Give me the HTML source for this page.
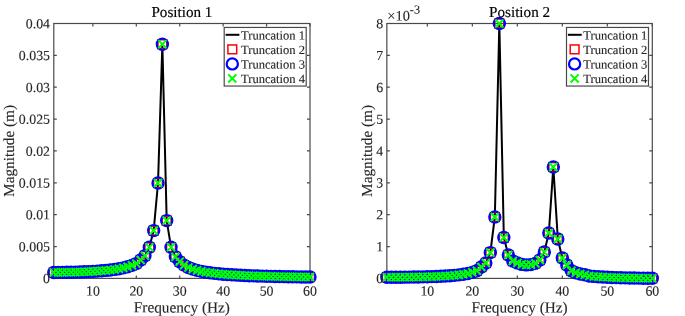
<!DOCTYPE html>
<html lang="en"><head><meta charset="utf-8"><title>Magnitude vs Frequency</title>
<style>
html,body{margin:0;padding:0;background:#fff;}
body{width:685px;height:316px;overflow:hidden;}
svg{display:block;font-family:"Liberation Serif", "Times New Roman", serif;fill:#262626;text-rendering:geometricPrecision;}
</style></head><body>
<svg width="685" height="316" viewBox="0 0 685 316">
<rect width="685" height="316" fill="#fff"/>
<rect x="53.8" y="23.5" width="256.2" height="254.9" fill="none" stroke="#4a4a4a" stroke-width="1.2"/>
<path fill="none" stroke="#4a4a4a" stroke-width="1.2" d="M92.88 278.4v-3M92.88 23.5v3M136.31 278.4v-3M136.31 23.5v3M179.73 278.4v-3M179.73 23.5v3M223.15 278.4v-3M223.15 23.5v3M266.58 278.4v-3M266.58 23.5v3M310 278.4v-3M310 23.5v3M53.8 278.4h3M310 278.4h-3M53.8 246.54h3M310 246.54h-3M53.8 214.67h3M310 214.67h-3M53.8 182.81h3M310 182.81h-3M53.8 150.95h3M310 150.95h-3M53.8 119.09h3M310 119.09h-3M53.8 87.22h3M310 87.22h-3M53.8 55.36h3M310 55.36h-3M53.8 23.5h3M310 23.5h-3"/>
<polyline fill="none" stroke="#000" stroke-width="2.0" stroke-linejoin="round" points="53.8,272.44 58.14,272.41 62.48,272.37 66.83,272.3 71.17,272.22 75.51,272.11 79.85,271.98 84.2,271.82 88.54,271.62 92.88,271.39 97.22,271.12 101.57,270.8 105.91,270.42 110.25,269.96 114.59,269.4 118.94,268.72 123.28,267.87 127.62,266.78 131.96,265.36 136.31,263.6 140.65,260 144.99,255.8 149.33,247.2 153.67,230.6 158.02,183 162.36,44.2 166.7,220.6 171.04,247.2 175.39,256.8 179.73,261.68 184.07,265.11 188.41,267.43 192.76,269.11 197.1,270.37 201.44,271.36 205.78,272.15 210.13,272.8 214.47,273.34 218.81,273.79 223.15,274.18 227.49,274.52 231.84,274.81 236.18,275.07 240.52,275.29 244.86,275.5 249.21,275.68 253.55,275.84 257.89,275.99 262.23,276.13 266.58,276.25 270.92,276.36 275.26,276.46 279.6,276.56 283.95,276.65 288.29,276.73 292.63,276.8 296.97,276.87 301.32,276.94 305.66,277 310,277.05"/>
<g fill="none" stroke="#f00" stroke-width="1.5"><rect x="49.4" y="268.04" width="8.8" height="8.8"/><rect x="53.74" y="268.01" width="8.8" height="8.8"/><rect x="58.08" y="267.97" width="8.8" height="8.8"/><rect x="62.43" y="267.9" width="8.8" height="8.8"/><rect x="66.77" y="267.82" width="8.8" height="8.8"/><rect x="71.11" y="267.71" width="8.8" height="8.8"/><rect x="75.45" y="267.58" width="8.8" height="8.8"/><rect x="79.8" y="267.42" width="8.8" height="8.8"/><rect x="84.14" y="267.22" width="8.8" height="8.8"/><rect x="88.48" y="266.99" width="8.8" height="8.8"/><rect x="92.82" y="266.72" width="8.8" height="8.8"/><rect x="97.17" y="266.4" width="8.8" height="8.8"/><rect x="101.51" y="266.02" width="8.8" height="8.8"/><rect x="105.85" y="265.56" width="8.8" height="8.8"/><rect x="110.19" y="265" width="8.8" height="8.8"/><rect x="114.54" y="264.32" width="8.8" height="8.8"/><rect x="118.88" y="263.47" width="8.8" height="8.8"/><rect x="123.22" y="262.38" width="8.8" height="8.8"/><rect x="127.56" y="260.96" width="8.8" height="8.8"/><rect x="131.91" y="259.2" width="8.8" height="8.8"/><rect x="136.25" y="255.6" width="8.8" height="8.8"/><rect x="140.59" y="251.4" width="8.8" height="8.8"/><rect x="144.93" y="242.8" width="8.8" height="8.8"/><rect x="149.27" y="226.2" width="8.8" height="8.8"/><rect x="153.62" y="178.6" width="8.8" height="8.8"/><rect x="157.96" y="39.8" width="8.8" height="8.8"/><rect x="162.3" y="216.2" width="8.8" height="8.8"/><rect x="166.64" y="242.8" width="8.8" height="8.8"/><rect x="170.99" y="252.4" width="8.8" height="8.8"/><rect x="175.33" y="257.28" width="8.8" height="8.8"/><rect x="179.67" y="260.71" width="8.8" height="8.8"/><rect x="184.01" y="263.03" width="8.8" height="8.8"/><rect x="188.36" y="264.71" width="8.8" height="8.8"/><rect x="192.7" y="265.97" width="8.8" height="8.8"/><rect x="197.04" y="266.96" width="8.8" height="8.8"/><rect x="201.38" y="267.75" width="8.8" height="8.8"/><rect x="205.73" y="268.4" width="8.8" height="8.8"/><rect x="210.07" y="268.94" width="8.8" height="8.8"/><rect x="214.41" y="269.39" width="8.8" height="8.8"/><rect x="218.75" y="269.78" width="8.8" height="8.8"/><rect x="223.09" y="270.12" width="8.8" height="8.8"/><rect x="227.44" y="270.41" width="8.8" height="8.8"/><rect x="231.78" y="270.67" width="8.8" height="8.8"/><rect x="236.12" y="270.89" width="8.8" height="8.8"/><rect x="240.46" y="271.1" width="8.8" height="8.8"/><rect x="244.81" y="271.28" width="8.8" height="8.8"/><rect x="249.15" y="271.44" width="8.8" height="8.8"/><rect x="253.49" y="271.59" width="8.8" height="8.8"/><rect x="257.83" y="271.73" width="8.8" height="8.8"/><rect x="262.18" y="271.85" width="8.8" height="8.8"/><rect x="266.52" y="271.96" width="8.8" height="8.8"/><rect x="270.86" y="272.06" width="8.8" height="8.8"/><rect x="275.2" y="272.16" width="8.8" height="8.8"/><rect x="279.55" y="272.25" width="8.8" height="8.8"/><rect x="283.89" y="272.33" width="8.8" height="8.8"/><rect x="288.23" y="272.4" width="8.8" height="8.8"/><rect x="292.57" y="272.47" width="8.8" height="8.8"/><rect x="296.92" y="272.54" width="8.8" height="8.8"/><rect x="301.26" y="272.6" width="8.8" height="8.8"/><rect x="305.6" y="272.65" width="8.8" height="8.8"/></g>
<g fill="none" stroke="#00f" stroke-width="2.2"><circle cx="53.8" cy="272.44" r="5.6"/><circle cx="58.14" cy="272.41" r="5.6"/><circle cx="62.48" cy="272.37" r="5.6"/><circle cx="66.83" cy="272.3" r="5.6"/><circle cx="71.17" cy="272.22" r="5.6"/><circle cx="75.51" cy="272.11" r="5.6"/><circle cx="79.85" cy="271.98" r="5.6"/><circle cx="84.2" cy="271.82" r="5.6"/><circle cx="88.54" cy="271.62" r="5.6"/><circle cx="92.88" cy="271.39" r="5.6"/><circle cx="97.22" cy="271.12" r="5.6"/><circle cx="101.57" cy="270.8" r="5.6"/><circle cx="105.91" cy="270.42" r="5.6"/><circle cx="110.25" cy="269.96" r="5.6"/><circle cx="114.59" cy="269.4" r="5.6"/><circle cx="118.94" cy="268.72" r="5.6"/><circle cx="123.28" cy="267.87" r="5.6"/><circle cx="127.62" cy="266.78" r="5.6"/><circle cx="131.96" cy="265.36" r="5.6"/><circle cx="136.31" cy="263.6" r="5.6"/><circle cx="140.65" cy="260" r="5.6"/><circle cx="144.99" cy="255.8" r="5.6"/><circle cx="149.33" cy="247.2" r="5.6"/><circle cx="153.67" cy="230.6" r="5.6"/><circle cx="158.02" cy="183" r="5.6"/><circle cx="162.36" cy="44.2" r="5.6"/><circle cx="166.7" cy="220.6" r="5.6"/><circle cx="171.04" cy="247.2" r="5.6"/><circle cx="175.39" cy="256.8" r="5.6"/><circle cx="179.73" cy="261.68" r="5.6"/><circle cx="184.07" cy="265.11" r="5.6"/><circle cx="188.41" cy="267.43" r="5.6"/><circle cx="192.76" cy="269.11" r="5.6"/><circle cx="197.1" cy="270.37" r="5.6"/><circle cx="201.44" cy="271.36" r="5.6"/><circle cx="205.78" cy="272.15" r="5.6"/><circle cx="210.13" cy="272.8" r="5.6"/><circle cx="214.47" cy="273.34" r="5.6"/><circle cx="218.81" cy="273.79" r="5.6"/><circle cx="223.15" cy="274.18" r="5.6"/><circle cx="227.49" cy="274.52" r="5.6"/><circle cx="231.84" cy="274.81" r="5.6"/><circle cx="236.18" cy="275.07" r="5.6"/><circle cx="240.52" cy="275.29" r="5.6"/><circle cx="244.86" cy="275.5" r="5.6"/><circle cx="249.21" cy="275.68" r="5.6"/><circle cx="253.55" cy="275.84" r="5.6"/><circle cx="257.89" cy="275.99" r="5.6"/><circle cx="262.23" cy="276.13" r="5.6"/><circle cx="266.58" cy="276.25" r="5.6"/><circle cx="270.92" cy="276.36" r="5.6"/><circle cx="275.26" cy="276.46" r="5.6"/><circle cx="279.6" cy="276.56" r="5.6"/><circle cx="283.95" cy="276.65" r="5.6"/><circle cx="288.29" cy="276.73" r="5.6"/><circle cx="292.63" cy="276.8" r="5.6"/><circle cx="296.97" cy="276.87" r="5.6"/><circle cx="301.32" cy="276.94" r="5.6"/><circle cx="305.66" cy="277" r="5.6"/><circle cx="310" cy="277.05" r="5.6"/></g>
<path fill="none" stroke="#0f0" stroke-width="2.05" d="M49.75 268.39l8.1 8.1m0 -8.1l-8.1 8.1M54.09 268.36l8.1 8.1m0 -8.1l-8.1 8.1M58.43 268.32l8.1 8.1m0 -8.1l-8.1 8.1M62.78 268.25l8.1 8.1m0 -8.1l-8.1 8.1M67.12 268.17l8.1 8.1m0 -8.1l-8.1 8.1M71.46 268.06l8.1 8.1m0 -8.1l-8.1 8.1M75.8 267.93l8.1 8.1m0 -8.1l-8.1 8.1M80.15 267.77l8.1 8.1m0 -8.1l-8.1 8.1M84.49 267.57l8.1 8.1m0 -8.1l-8.1 8.1M88.83 267.34l8.1 8.1m0 -8.1l-8.1 8.1M93.17 267.07l8.1 8.1m0 -8.1l-8.1 8.1M97.52 266.75l8.1 8.1m0 -8.1l-8.1 8.1M101.86 266.37l8.1 8.1m0 -8.1l-8.1 8.1M106.2 265.91l8.1 8.1m0 -8.1l-8.1 8.1M110.54 265.35l8.1 8.1m0 -8.1l-8.1 8.1M114.89 264.67l8.1 8.1m0 -8.1l-8.1 8.1M119.23 263.82l8.1 8.1m0 -8.1l-8.1 8.1M123.57 262.73l8.1 8.1m0 -8.1l-8.1 8.1M127.91 261.31l8.1 8.1m0 -8.1l-8.1 8.1M132.26 259.55l8.1 8.1m0 -8.1l-8.1 8.1M136.6 255.95l8.1 8.1m0 -8.1l-8.1 8.1M140.94 251.75l8.1 8.1m0 -8.1l-8.1 8.1M145.28 243.15l8.1 8.1m0 -8.1l-8.1 8.1M149.62 226.55l8.1 8.1m0 -8.1l-8.1 8.1M153.97 178.95l8.1 8.1m0 -8.1l-8.1 8.1M158.31 40.15l8.1 8.1m0 -8.1l-8.1 8.1M162.65 216.55l8.1 8.1m0 -8.1l-8.1 8.1M166.99 243.15l8.1 8.1m0 -8.1l-8.1 8.1M171.34 252.75l8.1 8.1m0 -8.1l-8.1 8.1M175.68 257.63l8.1 8.1m0 -8.1l-8.1 8.1M180.02 261.06l8.1 8.1m0 -8.1l-8.1 8.1M184.36 263.38l8.1 8.1m0 -8.1l-8.1 8.1M188.71 265.06l8.1 8.1m0 -8.1l-8.1 8.1M193.05 266.32l8.1 8.1m0 -8.1l-8.1 8.1M197.39 267.31l8.1 8.1m0 -8.1l-8.1 8.1M201.73 268.1l8.1 8.1m0 -8.1l-8.1 8.1M206.08 268.75l8.1 8.1m0 -8.1l-8.1 8.1M210.42 269.29l8.1 8.1m0 -8.1l-8.1 8.1M214.76 269.74l8.1 8.1m0 -8.1l-8.1 8.1M219.1 270.13l8.1 8.1m0 -8.1l-8.1 8.1M223.44 270.47l8.1 8.1m0 -8.1l-8.1 8.1M227.79 270.76l8.1 8.1m0 -8.1l-8.1 8.1M232.13 271.02l8.1 8.1m0 -8.1l-8.1 8.1M236.47 271.24l8.1 8.1m0 -8.1l-8.1 8.1M240.81 271.45l8.1 8.1m0 -8.1l-8.1 8.1M245.16 271.63l8.1 8.1m0 -8.1l-8.1 8.1M249.5 271.79l8.1 8.1m0 -8.1l-8.1 8.1M253.84 271.94l8.1 8.1m0 -8.1l-8.1 8.1M258.18 272.08l8.1 8.1m0 -8.1l-8.1 8.1M262.53 272.2l8.1 8.1m0 -8.1l-8.1 8.1M266.87 272.31l8.1 8.1m0 -8.1l-8.1 8.1M271.21 272.41l8.1 8.1m0 -8.1l-8.1 8.1M275.55 272.51l8.1 8.1m0 -8.1l-8.1 8.1M279.9 272.6l8.1 8.1m0 -8.1l-8.1 8.1M284.24 272.68l8.1 8.1m0 -8.1l-8.1 8.1M288.58 272.75l8.1 8.1m0 -8.1l-8.1 8.1M292.92 272.82l8.1 8.1m0 -8.1l-8.1 8.1M297.27 272.89l8.1 8.1m0 -8.1l-8.1 8.1M301.61 272.95l8.1 8.1m0 -8.1l-8.1 8.1M305.95 273l8.1 8.1m0 -8.1l-8.1 8.1"/>
<rect x="224.2" y="27.45" width="82" height="58.6" fill="#fff" stroke="#4a4a4a" stroke-width="1.2"/>
<path stroke="#000" stroke-width="2.0" d="M225.6 34.8h13.8"/>
<g fill="none" stroke="#f00" stroke-width="1.5"><rect x="227.9" y="44.95" width="8.8" height="8.8"/></g>
<g fill="none" stroke="#00f" stroke-width="2.2"><circle cx="232.3" cy="63.9" r="5.6"/></g>
<path fill="none" stroke="#0f0" stroke-width="2.05" d="M228.25 74.4l8.1 8.1m0 -8.1l-8.1 8.1"/>
<g stroke="#262626" stroke-width="0.12"><text x="92.88" y="295.6" transform="rotate(0.03 92.88 295.6)" text-anchor="middle" font-size="13.85">10</text>
<text x="136.31" y="295.6" transform="rotate(0.03 136.31 295.6)" text-anchor="middle" font-size="13.85">20</text>
<text x="179.73" y="295.6" transform="rotate(0.03 179.73 295.6)" text-anchor="middle" font-size="13.85">30</text>
<text x="223.15" y="295.6" transform="rotate(0.03 223.15 295.6)" text-anchor="middle" font-size="13.85">40</text>
<text x="266.58" y="295.6" transform="rotate(0.03 266.58 295.6)" text-anchor="middle" font-size="13.85">50</text>
<text x="310" y="295.6" transform="rotate(0.03 310 295.6)" text-anchor="middle" font-size="13.85">60</text>
<text x="50" y="283.1" transform="rotate(0.03 49 283.1)" text-anchor="end" font-size="13.85">0</text>
<text x="50" y="251.24" transform="rotate(0.03 49 251.24)" text-anchor="end" font-size="13.85">0.005</text>
<text x="50" y="219.37" transform="rotate(0.03 49 219.37)" text-anchor="end" font-size="13.85">0.01</text>
<text x="50" y="187.51" transform="rotate(0.03 49 187.51)" text-anchor="end" font-size="13.85">0.015</text>
<text x="50" y="155.65" transform="rotate(0.03 49 155.65)" text-anchor="end" font-size="13.85">0.02</text>
<text x="50" y="123.79" transform="rotate(0.03 49 123.79)" text-anchor="end" font-size="13.85">0.025</text>
<text x="50" y="91.92" transform="rotate(0.03 49 91.92)" text-anchor="end" font-size="13.85">0.03</text>
<text x="50" y="60.06" transform="rotate(0.03 49 60.06)" text-anchor="end" font-size="13.85">0.035</text>
<text x="50" y="28.2" transform="rotate(0.03 49 28.2)" text-anchor="end" font-size="13.85">0.04</text>
<text x="181.9" y="17" transform="rotate(0.03 181.9 17)" text-anchor="middle" font-size="15.15" fill="#000" stroke="#000" stroke-width="0.15">Position 1</text>
<text x="181.9" y="312.4" transform="rotate(0.03 181.9 312.4)" text-anchor="middle" font-size="15.25">Frequency (Hz)</text>
<text transform="translate(14 150.95) rotate(-89.97)" text-anchor="middle" font-size="15.25">Magnitude (m)</text>
<text x="241" y="39.4" transform="rotate(0.03 241 39.4)" font-size="12.55">Truncation 1</text>
<text x="241" y="53.95" transform="rotate(0.03 241 53.95)" font-size="12.55">Truncation 2</text>
<text x="241" y="68.5" transform="rotate(0.03 241 68.5)" font-size="12.55">Truncation 3</text>
<text x="241" y="83.05" transform="rotate(0.03 241 83.05)" font-size="12.55">Truncation 4</text></g>
<rect x="386.85" y="23.5" width="265.45" height="254.9" fill="none" stroke="#4a4a4a" stroke-width="1.2"/>
<path fill="none" stroke="#4a4a4a" stroke-width="1.2" d="M427.34 278.4v-3M427.34 23.5v3M472.33 278.4v-3M472.33 23.5v3M517.33 278.4v-3M517.33 23.5v3M562.32 278.4v-3M562.32 23.5v3M607.31 278.4v-3M607.31 23.5v3M652.3 278.4v-3M652.3 23.5v3M386.85 278.4h3M652.3 278.4h-3M386.85 246.54h3M652.3 246.54h-3M386.85 214.67h3M652.3 214.67h-3M386.85 182.81h3M652.3 182.81h-3M386.85 150.95h3M652.3 150.95h-3M386.85 119.09h3M652.3 119.09h-3M386.85 87.22h3M652.3 87.22h-3M386.85 55.36h3M652.3 55.36h-3M386.85 23.5h3M652.3 23.5h-3"/>
<polyline fill="none" stroke="#000" stroke-width="2.0" stroke-linejoin="round" points="386.85,277.27 391.35,277.26 395.85,277.23 400.35,277.2 404.85,277.16 409.35,277.11 413.84,277.05 418.34,276.97 422.84,276.87 427.34,276.76 431.84,276.62 436.34,276.46 440.84,276.26 445.34,276.02 449.84,275.72 454.34,275.35 458.84,274.88 463.34,274.27 467.83,273.46 472.33,272.34 476.83,270.7 481.33,267 485.83,263 490.33,252.6 494.83,217 499.33,23.5 503.83,237.5 508.33,255 512.83,261 517.33,262.92 521.82,264.39 526.32,264.9 530.82,264.61 535.32,263.38 539.82,260 544.32,252 548.82,233 553.32,167 557.82,239 562.32,258 566.82,265 571.32,270.8 575.81,272.72 580.31,273.96 584.81,274.82 589.31,275.94 593.81,276.41 598.31,276.77 602.81,277.06 607.31,277.29 611.81,277.48 616.31,277.63 620.81,277.77 625.31,277.88 629.8,277.97 634.3,278.06 638.8,278.13 643.3,278.19 647.8,278.25 652.3,278.3"/>
<g fill="none" stroke="#f00" stroke-width="1.5"><rect x="382.45" y="272.87" width="8.8" height="8.8"/><rect x="386.95" y="272.86" width="8.8" height="8.8"/><rect x="391.45" y="272.83" width="8.8" height="8.8"/><rect x="395.95" y="272.8" width="8.8" height="8.8"/><rect x="400.45" y="272.76" width="8.8" height="8.8"/><rect x="404.95" y="272.71" width="8.8" height="8.8"/><rect x="409.44" y="272.65" width="8.8" height="8.8"/><rect x="413.94" y="272.57" width="8.8" height="8.8"/><rect x="418.44" y="272.47" width="8.8" height="8.8"/><rect x="422.94" y="272.36" width="8.8" height="8.8"/><rect x="427.44" y="272.22" width="8.8" height="8.8"/><rect x="431.94" y="272.06" width="8.8" height="8.8"/><rect x="436.44" y="271.86" width="8.8" height="8.8"/><rect x="440.94" y="271.62" width="8.8" height="8.8"/><rect x="445.44" y="271.32" width="8.8" height="8.8"/><rect x="449.94" y="270.95" width="8.8" height="8.8"/><rect x="454.44" y="270.48" width="8.8" height="8.8"/><rect x="458.94" y="269.87" width="8.8" height="8.8"/><rect x="463.43" y="269.06" width="8.8" height="8.8"/><rect x="467.93" y="267.94" width="8.8" height="8.8"/><rect x="472.43" y="266.3" width="8.8" height="8.8"/><rect x="476.93" y="262.6" width="8.8" height="8.8"/><rect x="481.43" y="258.6" width="8.8" height="8.8"/><rect x="485.93" y="248.2" width="8.8" height="8.8"/><rect x="490.43" y="212.6" width="8.8" height="8.8"/><rect x="494.93" y="19.1" width="8.8" height="8.8"/><rect x="499.43" y="233.1" width="8.8" height="8.8"/><rect x="503.93" y="250.6" width="8.8" height="8.8"/><rect x="508.43" y="256.6" width="8.8" height="8.8"/><rect x="512.93" y="258.52" width="8.8" height="8.8"/><rect x="517.42" y="259.99" width="8.8" height="8.8"/><rect x="521.92" y="260.5" width="8.8" height="8.8"/><rect x="526.42" y="260.21" width="8.8" height="8.8"/><rect x="530.92" y="258.98" width="8.8" height="8.8"/><rect x="535.42" y="255.6" width="8.8" height="8.8"/><rect x="539.92" y="247.6" width="8.8" height="8.8"/><rect x="544.42" y="228.6" width="8.8" height="8.8"/><rect x="548.92" y="162.6" width="8.8" height="8.8"/><rect x="553.42" y="234.6" width="8.8" height="8.8"/><rect x="557.92" y="253.6" width="8.8" height="8.8"/><rect x="562.42" y="260.6" width="8.8" height="8.8"/><rect x="566.92" y="266.4" width="8.8" height="8.8"/><rect x="571.41" y="268.32" width="8.8" height="8.8"/><rect x="575.91" y="269.56" width="8.8" height="8.8"/><rect x="580.41" y="270.42" width="8.8" height="8.8"/><rect x="584.91" y="271.54" width="8.8" height="8.8"/><rect x="589.41" y="272.01" width="8.8" height="8.8"/><rect x="593.91" y="272.37" width="8.8" height="8.8"/><rect x="598.41" y="272.66" width="8.8" height="8.8"/><rect x="602.91" y="272.89" width="8.8" height="8.8"/><rect x="607.41" y="273.08" width="8.8" height="8.8"/><rect x="611.91" y="273.23" width="8.8" height="8.8"/><rect x="616.41" y="273.37" width="8.8" height="8.8"/><rect x="620.91" y="273.48" width="8.8" height="8.8"/><rect x="625.4" y="273.57" width="8.8" height="8.8"/><rect x="629.9" y="273.66" width="8.8" height="8.8"/><rect x="634.4" y="273.73" width="8.8" height="8.8"/><rect x="638.9" y="273.79" width="8.8" height="8.8"/><rect x="643.4" y="273.85" width="8.8" height="8.8"/><rect x="647.9" y="273.9" width="8.8" height="8.8"/></g>
<g fill="none" stroke="#00f" stroke-width="2.2"><circle cx="386.85" cy="277.27" r="5.6"/><circle cx="391.35" cy="277.26" r="5.6"/><circle cx="395.85" cy="277.23" r="5.6"/><circle cx="400.35" cy="277.2" r="5.6"/><circle cx="404.85" cy="277.16" r="5.6"/><circle cx="409.35" cy="277.11" r="5.6"/><circle cx="413.84" cy="277.05" r="5.6"/><circle cx="418.34" cy="276.97" r="5.6"/><circle cx="422.84" cy="276.87" r="5.6"/><circle cx="427.34" cy="276.76" r="5.6"/><circle cx="431.84" cy="276.62" r="5.6"/><circle cx="436.34" cy="276.46" r="5.6"/><circle cx="440.84" cy="276.26" r="5.6"/><circle cx="445.34" cy="276.02" r="5.6"/><circle cx="449.84" cy="275.72" r="5.6"/><circle cx="454.34" cy="275.35" r="5.6"/><circle cx="458.84" cy="274.88" r="5.6"/><circle cx="463.34" cy="274.27" r="5.6"/><circle cx="467.83" cy="273.46" r="5.6"/><circle cx="472.33" cy="272.34" r="5.6"/><circle cx="476.83" cy="270.7" r="5.6"/><circle cx="481.33" cy="267" r="5.6"/><circle cx="485.83" cy="263" r="5.6"/><circle cx="490.33" cy="252.6" r="5.6"/><circle cx="494.83" cy="217" r="5.6"/><circle cx="499.33" cy="23.5" r="5.6"/><circle cx="503.83" cy="237.5" r="5.6"/><circle cx="508.33" cy="255" r="5.6"/><circle cx="512.83" cy="261" r="5.6"/><circle cx="517.33" cy="262.92" r="5.6"/><circle cx="521.82" cy="264.39" r="5.6"/><circle cx="526.32" cy="264.9" r="5.6"/><circle cx="530.82" cy="264.61" r="5.6"/><circle cx="535.32" cy="263.38" r="5.6"/><circle cx="539.82" cy="260" r="5.6"/><circle cx="544.32" cy="252" r="5.6"/><circle cx="548.82" cy="233" r="5.6"/><circle cx="553.32" cy="167" r="5.6"/><circle cx="557.82" cy="239" r="5.6"/><circle cx="562.32" cy="258" r="5.6"/><circle cx="566.82" cy="265" r="5.6"/><circle cx="571.32" cy="270.8" r="5.6"/><circle cx="575.81" cy="272.72" r="5.6"/><circle cx="580.31" cy="273.96" r="5.6"/><circle cx="584.81" cy="274.82" r="5.6"/><circle cx="589.31" cy="275.94" r="5.6"/><circle cx="593.81" cy="276.41" r="5.6"/><circle cx="598.31" cy="276.77" r="5.6"/><circle cx="602.81" cy="277.06" r="5.6"/><circle cx="607.31" cy="277.29" r="5.6"/><circle cx="611.81" cy="277.48" r="5.6"/><circle cx="616.31" cy="277.63" r="5.6"/><circle cx="620.81" cy="277.77" r="5.6"/><circle cx="625.31" cy="277.88" r="5.6"/><circle cx="629.8" cy="277.97" r="5.6"/><circle cx="634.3" cy="278.06" r="5.6"/><circle cx="638.8" cy="278.13" r="5.6"/><circle cx="643.3" cy="278.19" r="5.6"/><circle cx="647.8" cy="278.25" r="5.6"/><circle cx="652.3" cy="278.3" r="5.6"/></g>
<path fill="none" stroke="#0f0" stroke-width="2.05" d="M382.8 273.22l8.1 8.1m0 -8.1l-8.1 8.1M387.3 273.21l8.1 8.1m0 -8.1l-8.1 8.1M391.8 273.18l8.1 8.1m0 -8.1l-8.1 8.1M396.3 273.15l8.1 8.1m0 -8.1l-8.1 8.1M400.8 273.11l8.1 8.1m0 -8.1l-8.1 8.1M405.3 273.06l8.1 8.1m0 -8.1l-8.1 8.1M409.79 273l8.1 8.1m0 -8.1l-8.1 8.1M414.29 272.92l8.1 8.1m0 -8.1l-8.1 8.1M418.79 272.82l8.1 8.1m0 -8.1l-8.1 8.1M423.29 272.71l8.1 8.1m0 -8.1l-8.1 8.1M427.79 272.57l8.1 8.1m0 -8.1l-8.1 8.1M432.29 272.41l8.1 8.1m0 -8.1l-8.1 8.1M436.79 272.21l8.1 8.1m0 -8.1l-8.1 8.1M441.29 271.97l8.1 8.1m0 -8.1l-8.1 8.1M445.79 271.67l8.1 8.1m0 -8.1l-8.1 8.1M450.29 271.3l8.1 8.1m0 -8.1l-8.1 8.1M454.79 270.83l8.1 8.1m0 -8.1l-8.1 8.1M459.29 270.22l8.1 8.1m0 -8.1l-8.1 8.1M463.78 269.41l8.1 8.1m0 -8.1l-8.1 8.1M468.28 268.29l8.1 8.1m0 -8.1l-8.1 8.1M472.78 266.65l8.1 8.1m0 -8.1l-8.1 8.1M477.28 262.95l8.1 8.1m0 -8.1l-8.1 8.1M481.78 258.95l8.1 8.1m0 -8.1l-8.1 8.1M486.28 248.55l8.1 8.1m0 -8.1l-8.1 8.1M490.78 212.95l8.1 8.1m0 -8.1l-8.1 8.1M495.28 19.45l8.1 8.1m0 -8.1l-8.1 8.1M499.78 233.45l8.1 8.1m0 -8.1l-8.1 8.1M504.28 250.95l8.1 8.1m0 -8.1l-8.1 8.1M508.78 256.95l8.1 8.1m0 -8.1l-8.1 8.1M513.28 258.87l8.1 8.1m0 -8.1l-8.1 8.1M517.77 260.34l8.1 8.1m0 -8.1l-8.1 8.1M522.27 260.85l8.1 8.1m0 -8.1l-8.1 8.1M526.77 260.56l8.1 8.1m0 -8.1l-8.1 8.1M531.27 259.33l8.1 8.1m0 -8.1l-8.1 8.1M535.77 255.95l8.1 8.1m0 -8.1l-8.1 8.1M540.27 247.95l8.1 8.1m0 -8.1l-8.1 8.1M544.77 228.95l8.1 8.1m0 -8.1l-8.1 8.1M549.27 162.95l8.1 8.1m0 -8.1l-8.1 8.1M553.77 234.95l8.1 8.1m0 -8.1l-8.1 8.1M558.27 253.95l8.1 8.1m0 -8.1l-8.1 8.1M562.77 260.95l8.1 8.1m0 -8.1l-8.1 8.1M567.27 266.75l8.1 8.1m0 -8.1l-8.1 8.1M571.76 268.67l8.1 8.1m0 -8.1l-8.1 8.1M576.26 269.91l8.1 8.1m0 -8.1l-8.1 8.1M580.76 270.77l8.1 8.1m0 -8.1l-8.1 8.1M585.26 271.89l8.1 8.1m0 -8.1l-8.1 8.1M589.76 272.36l8.1 8.1m0 -8.1l-8.1 8.1M594.26 272.72l8.1 8.1m0 -8.1l-8.1 8.1M598.76 273.01l8.1 8.1m0 -8.1l-8.1 8.1M603.26 273.24l8.1 8.1m0 -8.1l-8.1 8.1M607.76 273.43l8.1 8.1m0 -8.1l-8.1 8.1M612.26 273.58l8.1 8.1m0 -8.1l-8.1 8.1M616.76 273.72l8.1 8.1m0 -8.1l-8.1 8.1M621.26 273.83l8.1 8.1m0 -8.1l-8.1 8.1M625.75 273.92l8.1 8.1m0 -8.1l-8.1 8.1M630.25 274.01l8.1 8.1m0 -8.1l-8.1 8.1M634.75 274.08l8.1 8.1m0 -8.1l-8.1 8.1M639.25 274.14l8.1 8.1m0 -8.1l-8.1 8.1M643.75 274.2l8.1 8.1m0 -8.1l-8.1 8.1M648.25 274.25l8.1 8.1m0 -8.1l-8.1 8.1"/>
<rect x="566.5" y="27.45" width="82" height="58.6" fill="#fff" stroke="#4a4a4a" stroke-width="1.2"/>
<path stroke="#000" stroke-width="2.0" d="M567.9 34.8h13.8"/>
<g fill="none" stroke="#f00" stroke-width="1.5"><rect x="570.2" y="44.95" width="8.8" height="8.8"/></g>
<g fill="none" stroke="#00f" stroke-width="2.2"><circle cx="574.6" cy="63.9" r="5.6"/></g>
<path fill="none" stroke="#0f0" stroke-width="2.05" d="M570.55 74.4l8.1 8.1m0 -8.1l-8.1 8.1"/>
<g stroke="#262626" stroke-width="0.12"><text x="427.34" y="295.6" transform="rotate(0.03 427.34 295.6)" text-anchor="middle" font-size="13.85">10</text>
<text x="472.33" y="295.6" transform="rotate(0.03 472.33 295.6)" text-anchor="middle" font-size="13.85">20</text>
<text x="517.33" y="295.6" transform="rotate(0.03 517.33 295.6)" text-anchor="middle" font-size="13.85">30</text>
<text x="562.32" y="295.6" transform="rotate(0.03 562.32 295.6)" text-anchor="middle" font-size="13.85">40</text>
<text x="607.31" y="295.6" transform="rotate(0.03 607.31 295.6)" text-anchor="middle" font-size="13.85">50</text>
<text x="652.3" y="295.6" transform="rotate(0.03 652.3 295.6)" text-anchor="middle" font-size="13.85">60</text>
<text x="383.25" y="283.1" transform="rotate(0.03 382.05 283.1)" text-anchor="end" font-size="13.85">0</text>
<text x="383.25" y="251.24" transform="rotate(0.03 382.05 251.24)" text-anchor="end" font-size="13.85">1</text>
<text x="383.25" y="219.37" transform="rotate(0.03 382.05 219.37)" text-anchor="end" font-size="13.85">2</text>
<text x="383.25" y="187.51" transform="rotate(0.03 382.05 187.51)" text-anchor="end" font-size="13.85">3</text>
<text x="383.25" y="155.65" transform="rotate(0.03 382.05 155.65)" text-anchor="end" font-size="13.85">4</text>
<text x="383.25" y="123.79" transform="rotate(0.03 382.05 123.79)" text-anchor="end" font-size="13.85">5</text>
<text x="383.25" y="91.92" transform="rotate(0.03 382.05 91.92)" text-anchor="end" font-size="13.85">6</text>
<text x="383.25" y="60.06" transform="rotate(0.03 382.05 60.06)" text-anchor="end" font-size="13.85">7</text>
<text x="383.25" y="28.2" transform="rotate(0.03 382.05 28.2)" text-anchor="end" font-size="13.85">8</text>
<text x="519.58" y="17" transform="rotate(0.03 519.58 17)" text-anchor="middle" font-size="15.15" fill="#000" stroke="#000" stroke-width="0.15">Position 2</text>
<text x="519.58" y="312.4" transform="rotate(0.03 519.58 312.4)" text-anchor="middle" font-size="15.25">Frequency (Hz)</text>
<text transform="translate(371.95 150.95) rotate(-89.97)" text-anchor="middle" font-size="15.25">Magnitude (m)</text>
<text x="387.35" y="20.4" transform="rotate(0.03 386.85 20.4)" font-size="14.4">×10<tspan dy="-6.9" font-size="12.2">-3</tspan></text>
<text x="583.3" y="39.4" transform="rotate(0.03 583.3 39.4)" font-size="12.55">Truncation 1</text>
<text x="583.3" y="53.95" transform="rotate(0.03 583.3 53.95)" font-size="12.55">Truncation 2</text>
<text x="583.3" y="68.5" transform="rotate(0.03 583.3 68.5)" font-size="12.55">Truncation 3</text>
<text x="583.3" y="83.05" transform="rotate(0.03 583.3 83.05)" font-size="12.55">Truncation 4</text></g>
</svg>
</body></html>
